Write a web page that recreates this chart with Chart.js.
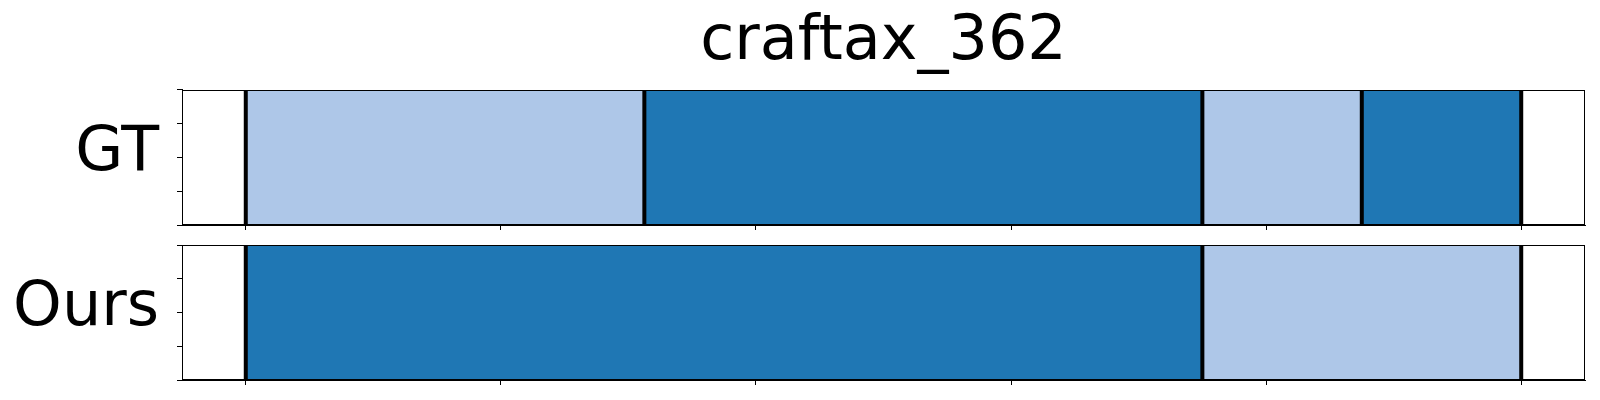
<!DOCTYPE html>
<html>
<head>
<meta charset="utf-8">
<script src="https://cdn.jsdelivr.net/npm/chart.js@4"></script>
<style>
  body { margin: 0; background: #fff; }
  canvas { position: absolute; left: 0; top: 0; }
</style>
</head>
<body>
<canvas id="gtChart" width="1600" height="400"></canvas>
<canvas id="oursChart" width="1600" height="400"></canvas>
<script>
// Segment boundaries (frame position, 0..100) and the class of each segment
const chartTitle = 'craftax_362';
const frameTicks = [0, 20, 40, 60, 80, 100];
const rowTicks = [0, 0.25, 0.5, 0.75, 1];
const gtBounds = [0, 31.25, 75, 87.5, 100];
const gtClasses = [1, 0, 1, 0];
const oursBounds = [0, 75, 100];
const oursClasses = [0, 1];

// tab20 blues: class 0 = dark, class 1 = light
const classColors = ['#1f77b4', '#aec7e8'];
const FONT = 'DejaVu Sans';
const FONT_SIZE = 62;

// Draws the full box around the plot area
const frameBox = {
    id: 'frameBox',
    afterDraw(chart) {
        const { ctx, chartArea: a } = chart;
        ctx.save();
        ctx.strokeStyle = '#000';
        ctx.lineWidth = 1;
        ctx.strokeRect(a.left + 0.5, a.top + 0.5, a.right - a.left - 1, a.bottom - a.top - 1);
        ctx.restore();
    }
};

function makeDatasets(bounds, classes) {
    const segs = classes.map((c, i) => ({
        type: 'bar',
        indexAxis: 'y',
        xAxisID: 'x',
        yAxisID: 'yc',
        data: [[bounds[i], bounds[i + 1]]],
        backgroundColor: classColors[c],
        borderWidth: 0,
        grouped: false,
        categoryPercentage: 1,
        barPercentage: 1,
        order: 1
    }));
    const lines = bounds.map(b => ({
        type: 'line',
        xAxisID: 'x',
        yAxisID: 'y',
        data: [{ x: b, y: 0 }, { x: b, y: 1 }],
        borderColor: '#000',
        borderWidth: 4,
        pointRadius: 0,
        order: 0
    }));
    return segs.concat(lines);
}

function makeChart(id, rowName, bounds, classes, padding, showTitle) {
    return new Chart(document.getElementById(id), {
        data: { labels: [rowName], datasets: makeDatasets(bounds, classes) },
        options: {
            responsive: false,
            animation: false,
            devicePixelRatio: 1,
            layout: { padding: padding },
            scales: {
                x: {
                    type: 'linear',
                    position: 'bottom',
                    min: -5,
                    max: 105,
                    afterBuildTicks: s => { s.ticks = frameTicks.map(v => ({ value: v })); },
                    afterFit: s => { s.height = 10; },
                    ticks: { display: false, autoSkip: false },
                    grid: { drawOnChartArea: false, drawTicks: true, tickLength: 5, color: '#000' },
                    border: { color: '#000', width: 1 }
                },
                y: {
                    type: 'linear',
                    position: 'left',
                    min: 0,
                    max: 1,
                    afterBuildTicks: s => { s.ticks = rowTicks.map(v => ({ value: v })); },
                    afterFit: s => { s.width = 182; s.paddingTop = 0; s.paddingBottom = 0; },
                    ticks: {
                        autoSkip: false,
                        padding: 18,
                        labelOffset: -4,
                        color: '#000',
                        font: { family: FONT, size: FONT_SIZE },
                        callback: v => (v === 0.5 ? rowName : '')
                    },
                    grid: { drawOnChartArea: false, drawTicks: true, tickLength: 5, color: '#000' },
                    border: { color: '#000', width: 1 }
                },
                yc: { type: 'category', display: false, offset: true }
            },
            plugins: {
                legend: { display: false },
                tooltip: { enabled: false },
                title: {
                    display: showTitle,
                    fullSize: false,
                    text: chartTitle,
                    color: '#000',
                    font: { family: FONT, size: FONT_SIZE, weight: 'normal' },
                    padding: { top: 6, bottom: 9.6 }
                }
            }
        },
        plugins: [frameBox]
    });
}

makeChart('gtChart', 'GT', gtBounds, gtClasses, { top: 0, right: 15, bottom: 165, left: 0 }, true);
makeChart('oursChart', 'Ours', oursBounds, oursClasses, { top: 245, right: 15, bottom: 10, left: 0 }, false);
</script>
</body>
</html>
